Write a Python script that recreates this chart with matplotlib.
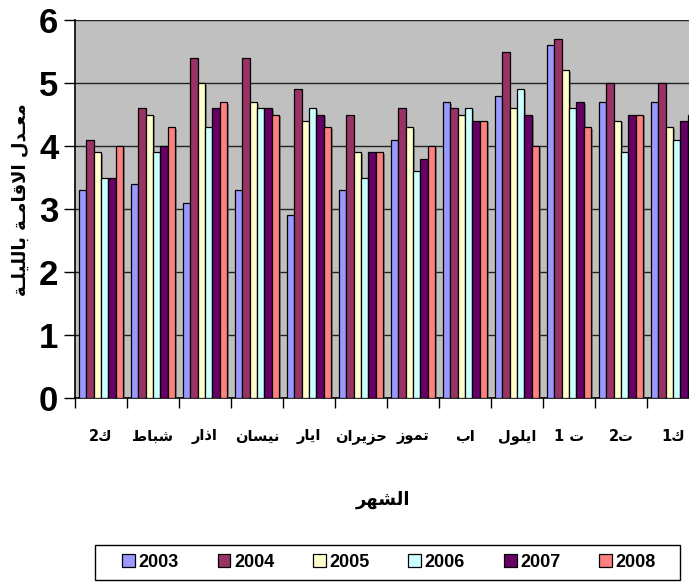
import re
import numpy as np
import matplotlib
matplotlib.use("Agg")
import matplotlib.pyplot as plt
from matplotlib import patheffects as pe
from matplotlib.patches import Rectangle

# ---------------- data ----------------
months = ["ك2", "شباط", "اذار", "نيسان", "ايار", "حزيران",
          "تموز", "اب", "ايلول", "ت 1", "ت2", "ك1"]
years = ["2003", "2004", "2005", "2006", "2007", "2008"]
v2003 = [3.3, 3.4, 3.1, 3.3, 2.9, 3.3, 4.1, 4.7, 4.8, 5.6, 4.7, 4.7]
v2004 = [4.1, 4.6, 5.4, 5.4, 4.9, 4.5, 4.6, 4.6, 5.5, 5.7, 5.0, 5.0]
v2005 = [3.9, 4.5, 5.0, 4.7, 4.4, 3.9, 4.3, 4.5, 4.6, 5.2, 4.4, 4.3]
v2006 = [3.5, 3.9, 4.3, 4.6, 4.6, 3.5, 3.6, 4.6, 4.9, 4.6, 3.9, 4.1]
v2007 = [3.5, 4.0, 4.6, 4.6, 4.5, 3.9, 3.8, 4.4, 4.5, 4.7, 4.5, 4.4]
v2008 = [4.0, 4.3, 4.7, 4.5, 4.3, 3.9, 4.0, 4.4, 4.0, 4.3, 4.5, 4.5]
series = [v2003, v2004, v2005, v2006, v2007, v2008]
yticks = [0, 1, 2, 3, 4, 5, 6]
y_title = "معـدل الاقامـة بالليلـة"
x_title = "الشهر"
colors = ["#9999FF", "#993366", "#FFFFCC", "#CCFFFF", "#660066", "#FF8080"]

# ---------------- simple Arabic shaping (presentation forms) ----------------
BASE = {'ا': (0xFE8D, False), 'ب': (0xFE8F, True), 'ة': (0xFE93, False),
        'ت': (0xFE95, True), 'ث': (0xFE99, True), 'ج': (0xFE9D, True),
        'ح': (0xFEA1, True), 'خ': (0xFEA5, True), 'د': (0xFEA9, False),
        'ذ': (0xFEAB, False), 'ر': (0xFEAD, False), 'ز': (0xFEAF, False),
        'س': (0xFEB1, True), 'ش': (0xFEB5, True), 'ص': (0xFEB9, True),
        'ض': (0xFEBD, True), 'ط': (0xFEC1, True), 'ظ': (0xFEC5, True),
        'ع': (0xFEC9, True), 'غ': (0xFECD, True), 'ف': (0xFED1, True),
        'ق': (0xFED5, True), 'ك': (0xFED9, True), 'ل': (0xFEDD, True),
        'م': (0xFEE1, True), 'ن': (0xFEE5, True), 'ه': (0xFEE9, True),
        'و': (0xFEED, False), 'ي': (0xFEF1, True), 'ى': (0xFEEF, False),
        '\uFEFB': (0xFEFB, False)}
TATWEEL = '\u0640'


def _dual(c):
    return c == TATWEEL or (c in BASE and BASE[c][1])


def _arabic(c):
    return c == TATWEEL or c in BASE


def ar(s):
    s = s.replace('لا', '\uFEFB')
    out = []
    n = len(s)
    for i, c in enumerate(s):
        if c not in BASE:
            out.append(c)
            continue
        b, d = BASE[c]
        jp = i > 0 and _dual(s[i - 1])
        jn = d and i < n - 1 and _arabic(s[i + 1])
        if jp and jn:
            f = b + 3
        elif jp:
            f = b + 1
        elif jn:
            f = b + 2
        else:
            f = b
        out.append(chr(f))
    r = ''.join(out)[::-1]
    r = re.sub(r'[0-9]+', lambda m: m.group(0)[::-1], r)
    return r


NUMFONT = ['Liberation Sans', 'DejaVu Sans']
ARFONT = ['DejaVu Sans']

# ---------------- figure ----------------
W, H = 689, 587
fig = plt.figure(figsize=(W / 100, H / 100), dpi=100)
fig.patch.set_facecolor('white')
ax = fig.add_axes([75 / W, 1 - 398 / H, (699 - 75) / W, (398 - 20) / H])
ax.set_facecolor('#C0C0C0')

n = len(months)
x = np.arange(n) + 0.5
bw = 0.144
for k, (vals, col, yr) in enumerate(zip(series, colors, years)):
    bars = ax.bar(x + (k - 2.5) * bw, vals, width=bw, color=col,
                  edgecolor='black', linewidth=0.9, label=yr, zorder=3)
    for b in bars:
        b.set_path_effects([pe.SimplePatchShadow(offset=(1.2, -1.2),
                                                 shadow_rgbFace='#555555',
                                                 alpha=0.6),
                            pe.Normal()])

ax.set_xlim(0, n)
ax.set_ylim(0, 6)
ax.set_yticks(yticks)
ax.set_yticklabels([str(t) for t in yticks], fontsize=25, fontweight='bold',
                   family=NUMFONT)
ax.yaxis.grid(True, color='#222222', linewidth=1.0, zorder=1)
ax.set_axisbelow(True)
ax.tick_params(axis='y', direction='out', length=8, width=1, pad=4,
               colors='black')

ax.set_xticks(np.arange(n + 1))
ax.set_xticklabels([])
ax.tick_params(axis='x', which='major', direction='out', length=7, width=1)
ax.set_xticks(x, minor=True)
ax.set_xticklabels([ar(m) for m in months], minor=True, fontsize=10.5,
                   fontweight='bold', family=ARFONT)
ax.tick_params(axis='x', which='minor', length=0, pad=22)

for s in ['top', 'right']:
    ax.spines[s].set_visible(False)
ax.spines['left'].set_color('black')
ax.spines['bottom'].set_color('black')
ax.spines['left'].set_linewidth(1.2)
ax.spines['bottom'].set_linewidth(1.2)

fig.text(21 / W, 1 - 200 / H, ar(y_title), rotation=90, ha='center',
         va='center', fontsize=13, fontweight='bold', family=ARFONT)
fig.text(383 / W, 1 - 500 / H, ar(x_title), ha='center', va='center',
         fontsize=13, fontweight='bold', family=ARFONT)

# legend frame
fig.patches.append(Rectangle((95 / W, 1 - 580 / H), 585 / W, 35 / H,
                             transform=fig.transFigure, facecolor='white',
                             edgecolor='black', linewidth=1.0, zorder=0))
handles, labels = ax.get_legend_handles_labels()
leg = fig.legend(handles, labels, ncol=6, loc='center',
                 bbox_to_anchor=(115 / W, 1 - 580 / H, 548 / W, 35 / H),
                 mode='expand', frameon=False,
                 handlelength=0.7, handleheight=0.7,
                 handletextpad=0.2, borderaxespad=0,
                 prop={'family': NUMFONT, 'weight': 'bold', 'size': 13})
for h in leg.legend_handles:
    h.set_path_effects([])

fig.savefig('out.png', dpi=100)
